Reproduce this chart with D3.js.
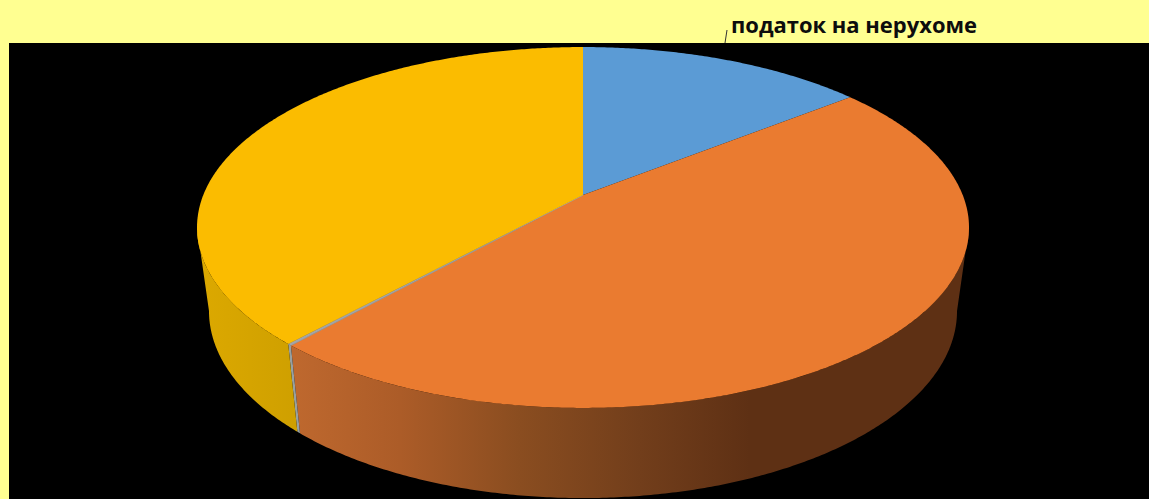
<!DOCTYPE html>
<html><head><meta charset="utf-8">
<script src="https://cdn.jsdelivr.net/npm/d3@7"></script>
<style>html,body{margin:0;padding:0;background:#FFFF91;overflow:hidden}</style>
</head><body>
<script>
const categories = ["категорія 1", "категорія 2", "податок на нерухоме", "категорія 4"];
const values = [14.3, 47.3, 0.15, 38.25];
const topColors = ["#5B9BD5", "#EA7B30", "#A5A5A5", "#FBBC00"];
const labelText = "податок на нерухоме";

const W = 1149, H = 499;
const svg = d3.select("body").append("svg").attr("width", W).attr("height", H).style("display", "block");
svg.append("rect").attr("width", W).attr("height", H).attr("fill", "#FFFF91");
svg.append("rect").attr("x", 9).attr("y", 43).attr("width", W - 9).attr("height", H - 43).attr("fill", "#000");

// Perspective projection of the pie's two discs
const cx = 583, persp = -0.18;
const topDisc = { A: 379.7, a: 139.5, b: 195 };
const botDisc = { A: 367.9, a: 131, b: 277.4 };
const project = (disc, t) => {
  const u = Math.sin(t), v = -Math.cos(t), w = 1 + persp * v;
  return [cx + disc.A * u / w, (disc.a * v + disc.b) / w];
};
const arcs = d3.pie().value(d => d).sort(null)(values);
const visFrom = Math.acos(persp), visTo = 2 * Math.PI - visFrom;
const line = d3.line();
const samples = (a0, a1) => d3.range(0, 1.0001, 1 / Math.max(2, Math.ceil((a1 - a0) * 120))).map(f => a0 + (a1 - a0) * f);

// Side shading
const defs = svg.append("defs");
const gradX = d3.scaleLinear().domain([197, 970]).range([0, 1]);
const addGrad = (id, stops) => {
  const g = defs.append("linearGradient").attr("id", id).attr("gradientUnits", "userSpaceOnUse")
    .attr("x1", 197).attr("x2", 970).attr("y1", 0).attr("y2", 0);
  stops.forEach(s => g.append("stop").attr("offset", gradX(s[1])).attr("stop-color", s[0]));
};
addGrad("sideOrange", [["#BE682E", 295], ["#AC5C28", 400], ["#8A4D20", 520], ["#723E1B", 640], ["#5E3014", 750], ["#5E3014", 970]]);
addGrad("sideGold", [["#DBA800", 205], ["#CFA000", 295]]);
const sideFill = ["#4A7DAB", "url(#sideOrange)", "#98A0A0", "url(#sideGold)"];

// Sides
arcs.forEach((d, i) => {
  const a0 = Math.max(d.startAngle, visFrom), a1 = Math.min(d.endAngle, visTo);
  if (a1 <= a0) return;
  const ts = samples(a0, a1);
  const pts = ts.map(t => project(topDisc, t)).concat(ts.slice().reverse().map(t => project(botDisc, t)));
  svg.append("path").attr("d", line(pts) + "Z").attr("fill", sideFill[i]);
});

// Top face
arcs.forEach((d, i) => {
  const pts = [[cx, topDisc.b]].concat(samples(d.startAngle, d.endAngle).map(t => project(topDisc, t)));
  svg.append("path").attr("d", line(pts) + "Z").attr("fill", topColors[i])
    .attr("stroke", i === 2 ? topColors[i] : "none").attr("stroke-width", i === 2 ? 0.8 : 0);
});

// Label and leader
svg.append("line").attr("x1", 727).attr("y1", 30).attr("x2", 725).attr("y2", 43)
  .attr("stroke", "#333").attr("stroke-width", 1);
svg.append("text").attr("x", 731).attr("y", 33).text(labelText)
  .attr("font-family", "'Open Sans', sans-serif").attr("font-weight", 700)
  .attr("font-size", 21).attr("fill", "#0d0d0d").attr("textLength", 246).attr("lengthAdjust", "spacingAndGlyphs");
</script>
</body></html>
